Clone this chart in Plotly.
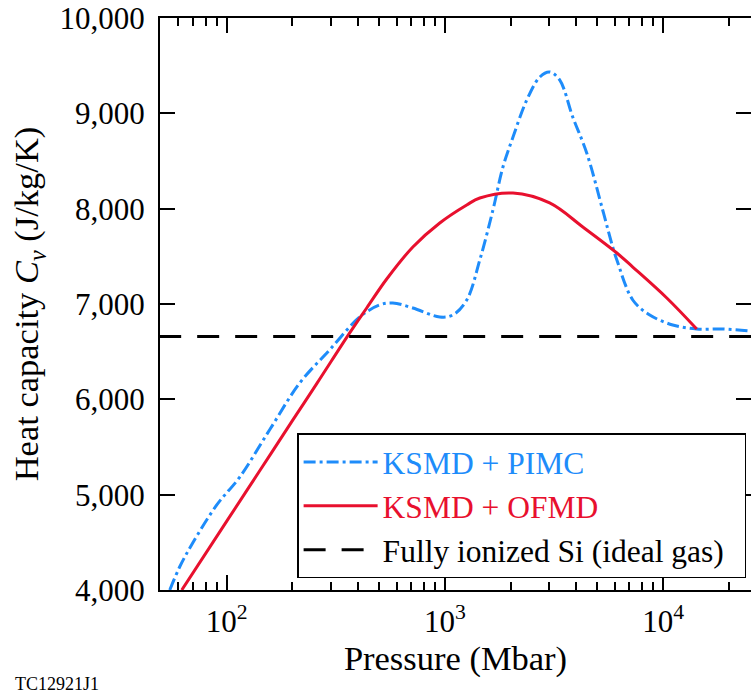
import plotly.graph_objects as go

# ---- data ----
pimc_P = [54.8, 60.8, 69.8, 90, 114.7, 157, 216, 296, 407, 502, 577, 713, 947, 1087,
          1259, 1445, 1660, 1845, 2052, 2373, 2723, 3020, 3357, 3854, 4467, 5286,
          5875, 6140, 7262, 8690, 11070, 14260, 18750, 25300]
pimc_Cv = [4000, 4241, 4493, 4892, 5185, 5678, 6171, 6518, 6864, 6990, 7011, 6958, 6864, 6885,
           7042, 7462, 7986, 8437, 8752, 9140, 9381, 9434, 9350, 8962, 8584, 7986,
           7598, 7462, 7042, 6885, 6780, 6738, 6738, 6717]

ofmd_P = [62.2, 100, 141.6, 201, 259, 366, 438, 541, 713, 947, 1259, 1445, 2052,
          3020, 4285, 6140, 7262, 10400, 14260]
ofmd_Cv = [4000, 4722, 5251, 5784, 6167, 6697, 6958, 7262, 7598, 7850, 8039, 8112, 8164,
           8060, 7808, 7535, 7388, 7063, 6738]

ideal_P = [49, 26000]
ideal_Cv = [6658, 6658]

x_tickvals = [100, 1000, 10000]
x_ticktext = ["10<sup>2</sup>", "10<sup>3</sup>", "10<sup>4</sup>"]
x_minorvals = [60, 70, 80, 90, 200, 300, 400, 500, 600, 700, 800, 900,
               2000, 3000, 4000, 5000, 6000, 7000, 8000, 9000, 20000]
y_tickvals = [4000, 5000, 6000, 7000, 8000, 9000, 10000]

BLUE = "#1E8CFA"
RED = "#E8102E"
FONT = "Liberation Serif"
NB = "\u00a0"

fig = go.Figure()
fig.add_trace(go.Scatter(
    x=pimc_P, y=pimc_Cv, mode="lines", line_shape="spline",
    line=dict(color=BLUE, width=3, dash="12px,4px,3px,4px"),
    name='<span style="color:%s">KSMD + PIMC</span>' % BLUE))
fig.add_trace(go.Scatter(
    x=ofmd_P, y=ofmd_Cv, mode="lines", line_shape="spline",
    line=dict(color=RED, width=3),
    name='<span style="color:%s">KSMD + OFMD</span>' % RED))
fig.add_trace(go.Scatter(
    x=ideal_P, y=ideal_Cv, mode="lines",
    line=dict(color="black", width=3, dash="22px,16px"),
    name="Fully ionized Si (ideal gas)" + NB * 2))

fig.update_layout(
    width=751, height=694,
    margin=dict(l=160, r=0, t=18, b=104, autoexpand=False),
    plot_bgcolor="white", paper_bgcolor="white",
    font=dict(family=FONT, size=31, color="black"),
    legend=dict(x=0.232, y=0.147, xanchor="left", yanchor="middle",
                bordercolor="black", borderwidth=1.5, bgcolor="white",
                font=dict(family=FONT, size=31.5), itemwidth=74,
                tracegroupgap=0),
    showlegend=True,
)
fig.update_xaxes(
    type="log", range=[1.694, 4.403], automargin=False,
    tickmode="array", tickvals=x_tickvals, ticktext=x_ticktext,
    ticks="inside", ticklen=15, tickwidth=2, tickcolor="black",
    minor=dict(tickmode="array", tickvals=x_minorvals, ticks="inside",
               ticklen=8, tickwidth=1.5, tickcolor="black", showgrid=False),
    showline=True, linewidth=2, linecolor="black", mirror="ticks",
    showgrid=False, zeroline=False, ticklabelstandoff=3,
    title=dict(text="Pressure (Mbar)", standoff=3,
               font=dict(family=FONT, size=34.5)),
)
fig.update_yaxes(
    range=[4000, 10000], automargin=False,
    tickmode="array", tickvals=y_tickvals, tickformat=",d",
    ticks="inside", ticklen=15, tickwidth=2, tickcolor="black",
    showline=True, linewidth=2, linecolor="black", mirror="ticks",
    showgrid=False, zeroline=False, ticklabelstandoff=7,
    title=dict(text="Heat capacity <i>C<sub>v</sub></i> (J/kg/K)", standoff=10,
               font=dict(family=FONT, size=34.5)),
)
fig.add_annotation(text="TC12921J1", xref="paper", yref="paper",
                   x=-0.248, y=-0.164, xanchor="left", yanchor="middle",
                   showarrow=False, font=dict(family=FONT, size=18))

fig.write_html(
    "out.html",
    config={"responsive": False, "displayModeBar": False},
    post_script="document.body.style.margin='0px';document.body.style.overflow='hidden';",
)
